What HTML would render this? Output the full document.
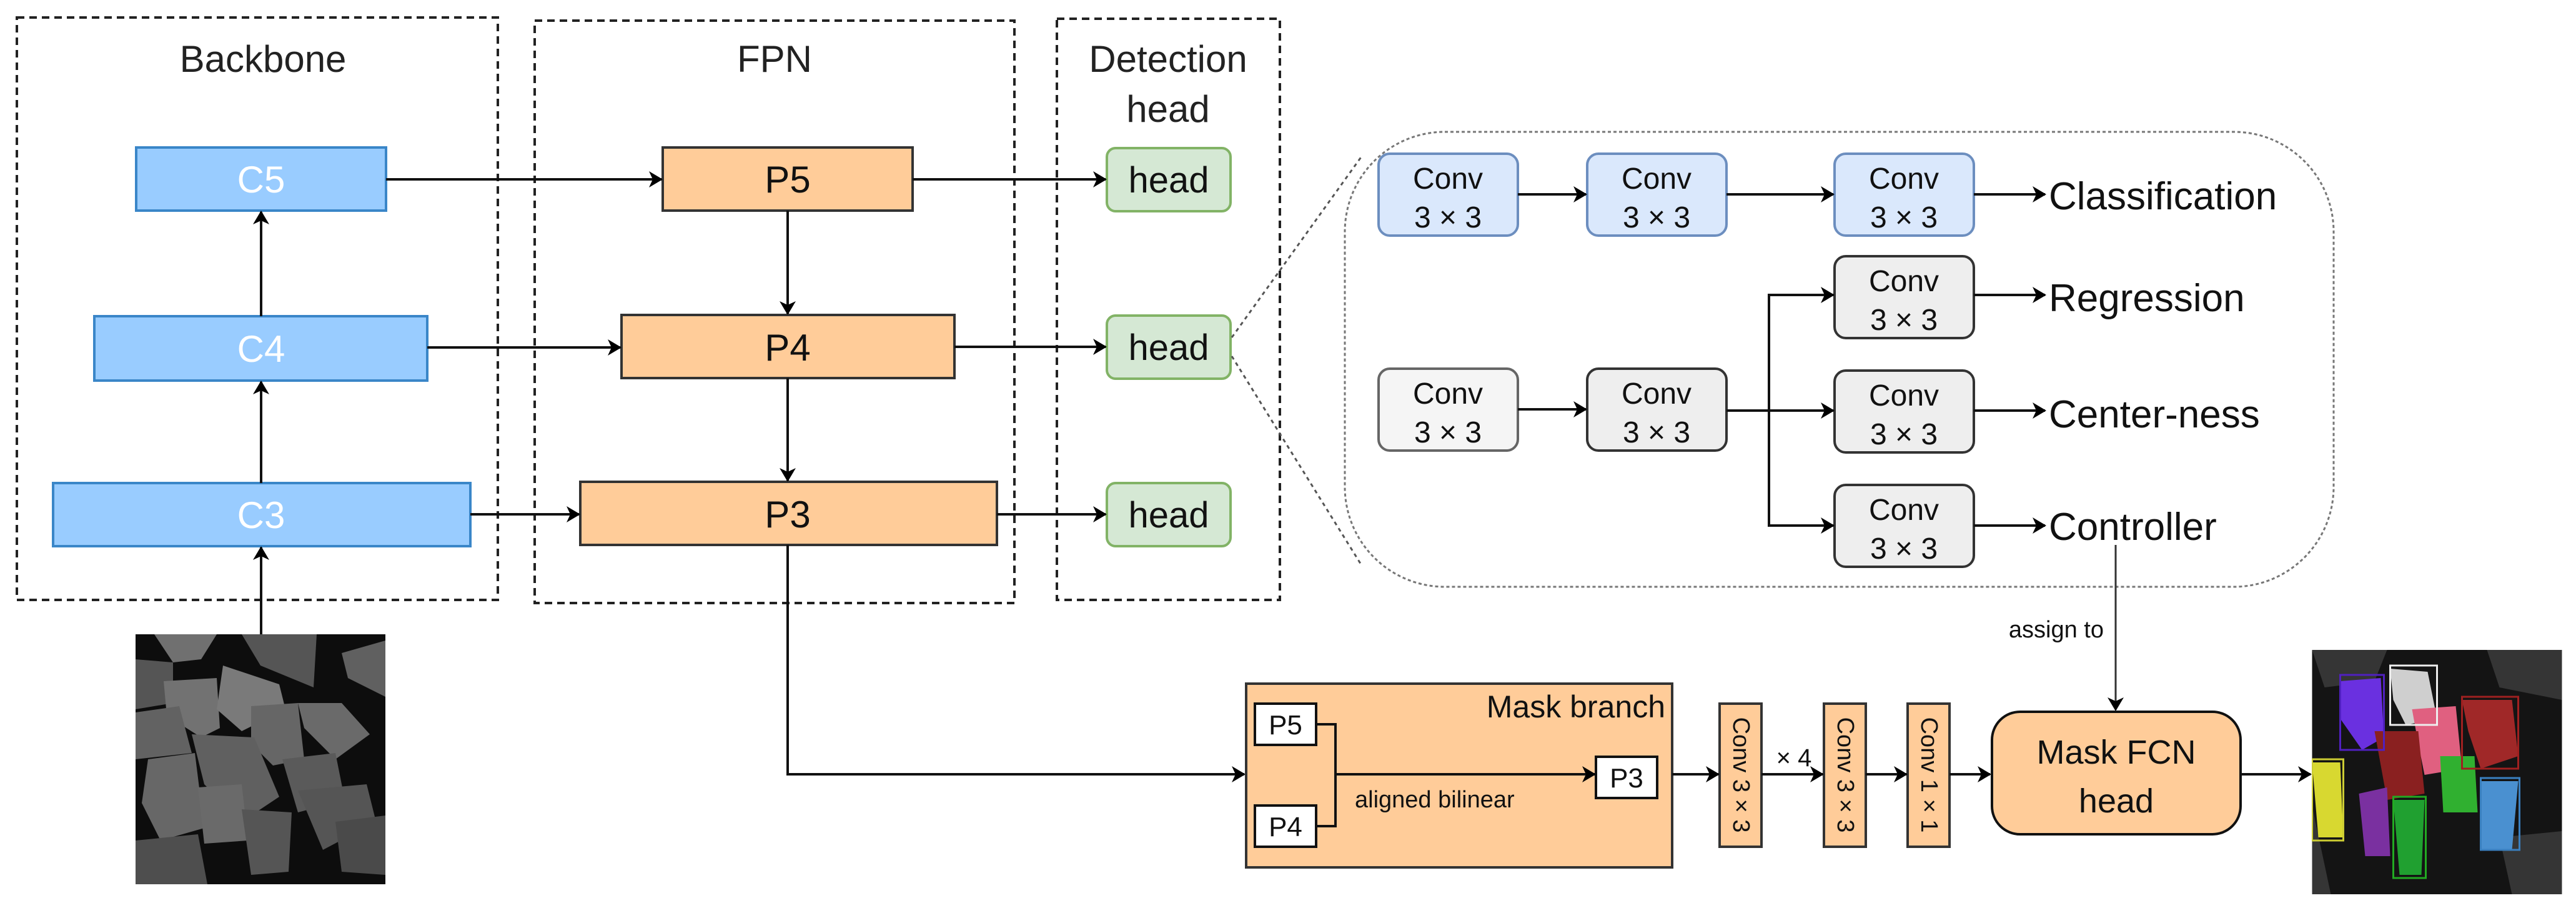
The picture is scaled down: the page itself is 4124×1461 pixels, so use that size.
<!DOCTYPE html>
<html><head><meta charset="utf-8"><style>html,body{margin:0;padding:0;background:#fff}svg{display:block}</style></head>
<body>
<svg width="4124" height="1461" viewBox="0 0 4124 1461" xmlns="http://www.w3.org/2000/svg" font-family="Liberation Sans, sans-serif">
<defs>
<marker id="b" markerWidth="22" markerHeight="26" refX="20" refY="13" orient="auto" markerUnits="userSpaceOnUse"><path d="M0,0 L22,13 L0,26 L6,13 z" fill="#000"/></marker>
</defs>
<g fill="none" stroke="#222" stroke-width="4" stroke-dasharray="12,8">
<rect x="27" y="28" width="770" height="932"/>
<rect x="856" y="33" width="768" height="932"/>
<rect x="1692" y="30" width="357" height="930"/>
</g>
<g font-size="60" fill="#222" text-anchor="middle">
<text x="421" y="115">Backbone</text>
<text x="1240" y="115">FPN</text>
<text x="1870" y="115">Detection</text>
<text x="1870" y="195">head</text>
</g>
<g fill="#99ccff" stroke="#3a86c8" stroke-width="4">
<rect x="218" y="236" width="400" height="101"/>
<rect x="151" y="506" width="533" height="103"/>
<rect x="85" y="773" width="668" height="101"/>
</g>
<g font-size="60" fill="#fff" text-anchor="middle">
<text x="418" y="308">C5</text><text x="418" y="579">C4</text><text x="418" y="845">C3</text>
</g>
<g fill="#ffcc99" stroke="#333" stroke-width="4">
<rect x="1061" y="236" width="400" height="101"/>
<rect x="995" y="504" width="533" height="101"/>
<rect x="929" y="771" width="667" height="101"/>
</g>
<g font-size="60" fill="#111" text-anchor="middle">
<text x="1261" y="308">P5</text><text x="1261" y="577">P4</text><text x="1261" y="844">P3</text>
</g>
<g fill="#d5e8d4" stroke="#82b366" stroke-width="4">
<rect x="1772" y="237" width="198" height="101" rx="14"/>
<rect x="1772" y="505" width="198" height="101" rx="14"/>
<rect x="1772" y="773" width="198" height="101" rx="14"/>
</g>
<g font-size="58" fill="#111" text-anchor="middle">
<text x="1871" y="308">head</text><text x="1871" y="576">head</text><text x="1871" y="844">head</text>
</g>
<g stroke="#111" stroke-width="4" fill="none" marker-end="url(#b)">
<line x1="618" y1="287" x2="1059" y2="287"/>
<line x1="684" y1="556" x2="993" y2="556"/>
<line x1="753" y1="823" x2="927" y2="823"/>
<line x1="1461" y1="287" x2="1770" y2="287"/>
<line x1="1528" y1="555" x2="1770" y2="555"/>
<line x1="1596" y1="823" x2="1770" y2="823"/>
<line x1="1261" y1="337" x2="1261" y2="502"/>
<line x1="1261" y1="605" x2="1261" y2="769"/>
<line x1="418" y1="506" x2="418" y2="339"/>
<line x1="418" y1="773" x2="418" y2="611"/>
<line x1="418" y1="1015" x2="418" y2="876"/>
<polyline points="1261,872 1261,1239 1992,1239"/>
</g>
<g stroke="#555" stroke-width="3" stroke-dasharray="6,6" fill="none">
<line x1="1972" y1="540" x2="2180" y2="250"/>
<line x1="1972" y1="570" x2="2180" y2="905"/>
</g>
<rect x="2153" y="211" width="1583" height="728" rx="160" fill="none" stroke="#777" stroke-width="3" stroke-dasharray="5,4"/>
<g stroke-width="4">
<g fill="#dae8fc" stroke="#6c8ebf">
<rect x="2207" y="246" width="223" height="131" rx="18"/>
<rect x="2541" y="246" width="223" height="131" rx="18"/>
<rect x="2937" y="246" width="223" height="131" rx="18"/>
</g>
<g fill="#f5f5f5" stroke="#666">
<rect x="2207" y="590" width="223" height="131" rx="18"/>
</g>
<g fill="#eeeeee" stroke="#333">
<rect x="2541" y="590" width="223" height="131" rx="18"/>
<rect x="2937" y="410" width="223" height="131" rx="18"/>
<rect x="2937" y="593" width="223" height="131" rx="18"/>
<rect x="2937" y="776" width="223" height="131" rx="18"/>
</g>
</g>
<g font-size="48" fill="#111" text-anchor="middle">
<text x="2318" y="302">Conv</text><text x="2318" y="364">3 × 3</text>
<text x="2652" y="302">Conv</text><text x="2652" y="364">3 × 3</text>
<text x="3048" y="302">Conv</text><text x="3048" y="364">3 × 3</text>
<text x="3048" y="466">Conv</text><text x="3048" y="528">3 × 3</text>
<text x="2318" y="646">Conv</text><text x="2318" y="708">3 × 3</text>
<text x="2652" y="646">Conv</text><text x="2652" y="708">3 × 3</text>
<text x="3048" y="649">Conv</text><text x="3048" y="711">3 × 3</text>
<text x="3048" y="832">Conv</text><text x="3048" y="894">3 × 3</text>
</g>
<g stroke="#111" stroke-width="4" fill="none" marker-end="url(#b)">
<line x1="2430" y1="311" x2="2539" y2="311"/>
<line x1="2764" y1="311" x2="2935" y2="311"/>
<line x1="2430" y1="655" x2="2539" y2="655"/>
<line x1="2764" y1="657" x2="2935" y2="657"/>
<polyline points="2832,657 2832,472 2935,472"/>
<polyline points="2832,657 2832,841 2935,841"/>
<line x1="3160" y1="311" x2="3274" y2="311"/>
<line x1="3160" y1="472" x2="3274" y2="472"/>
<line x1="3160" y1="657" x2="3274" y2="657"/>
<line x1="3160" y1="841" x2="3274" y2="841"/>
</g>
<g font-size="62" fill="#111">
<text x="3280" y="335">Classification</text>
<text x="3280" y="498">Regression</text>
<text x="3280" y="684">Center-ness</text>
<text x="3280" y="864">Controller</text>
</g>
<line x1="3387" y1="872" x2="3387" y2="1136" stroke="#333" stroke-width="3" marker-end="url(#b)"/>
<text x="3368" y="1020" font-size="38" fill="#111" text-anchor="end">assign to</text>
<rect x="1995" y="1094" width="682" height="294" fill="#ffcc99" stroke="#333" stroke-width="4"/>
<text x="2666" y="1148" font-size="50" fill="#111" text-anchor="end">Mask branch</text>
<g fill="#fff" stroke="#111" stroke-width="4">
<rect x="2009" y="1126" width="98" height="66"/>
<rect x="2009" y="1289" width="98" height="66"/>
<rect x="2555" y="1211" width="98" height="66"/>
</g>
<g font-size="44" fill="#111" text-anchor="middle">
<text x="2058" y="1175">P5</text><text x="2058" y="1338">P4</text><text x="2604" y="1260">P3</text>
</g>
<polyline points="2107,1159 2138,1159 2138,1322 2107,1322" fill="none" stroke="#111" stroke-width="4"/>
<line x1="2138" y1="1239" x2="2553" y2="1239" stroke="#111" stroke-width="4" marker-end="url(#b)"/>
<text x="2169" y="1292" font-size="38" fill="#111">aligned bilinear</text>
<g fill="#ffcc99" stroke="#333" stroke-width="4">
<rect x="2753" y="1126" width="67" height="229"/>
<rect x="2920" y="1126" width="67" height="229"/>
<rect x="3054" y="1126" width="67" height="229"/>
</g>
<g font-size="38" fill="#111" text-anchor="middle">
<text transform="translate(2775,1240) rotate(90)">Conv 3 × 3</text>
<text transform="translate(2942,1240) rotate(90)">Conv 3 × 3</text>
<text transform="translate(3076,1240) rotate(90)">Conv 1 × 1</text>
<text x="2872" y="1226" font-size="40">× 4</text>
</g>
<g stroke="#111" stroke-width="4" fill="none" marker-end="url(#b)">
<line x1="2677" y1="1239" x2="2751" y2="1239"/>
<line x1="2820" y1="1239" x2="2918" y2="1239"/>
<line x1="2987" y1="1239" x2="3052" y2="1239"/>
<line x1="3121" y1="1239" x2="3186" y2="1239"/>
<line x1="3587" y1="1239" x2="3699" y2="1239"/>
</g>
<rect x="3189" y="1139" width="398" height="196" rx="45" fill="#ffcc99" stroke="#111" stroke-width="4"/>
<g font-size="54" fill="#111" text-anchor="middle">
<text x="3388" y="1222">Mask FCN</text><text x="3388" y="1300">head</text>
</g>
<svg x="217" y="1015" width="400" height="400" viewBox="0 0 400 400">
<rect width="400" height="400" fill="#0d0d0d"/>
<g>
<path d="M30,0 L130,0 L105,40 L60,45 Z" fill="#707070"/>
<path d="M170,0 L290,0 L285,85 L200,50 Z" fill="#555"/>
<path d="M330,30 L400,10 L400,100 L340,70 Z" fill="#606060"/>
<path d="M0,40 L60,45 L60,110 L0,120 Z" fill="#555"/>
<path d="M45,75 L130,70 L135,150 L105,165 L50,130 Z" fill="#727272"/>
<path d="M140,50 L230,80 L240,120 L170,155 L130,120 Z" fill="#7a7a7a"/>
<path d="M185,115 L260,110 L270,200 L220,210 L185,175 Z" fill="#666"/>
<path d="M260,110 L330,110 L375,160 L320,200 L270,150 Z" fill="#6a6a6a"/>
<path d="M0,125 L70,115 L90,190 L0,200 Z" fill="#626262"/>
<path d="M90,160 L190,165 L230,260 L170,300 L110,240 Z" fill="#606060"/>
<path d="M20,200 L95,190 L110,310 L40,330 L10,270 Z" fill="#676767"/>
<path d="M100,245 L170,240 L180,330 L110,335 Z" fill="#6a6a6a"/>
<path d="M235,200 L320,190 L335,265 L260,285 Z" fill="#5a5a5a"/>
<path d="M260,250 L370,240 L385,300 L300,345 Z" fill="#555"/>
<path d="M170,280 L250,285 L245,380 L185,385 Z" fill="#555"/>
<path d="M0,330 L100,320 L115,400 L0,400 Z" fill="#4e4e4e"/>
<path d="M320,300 L400,290 L400,385 L330,380 Z" fill="#4a4a4a"/>
</g>
</svg>
<svg x="3701" y="1040" width="401" height="391" viewBox="0 0 400 391">
<rect width="400" height="391" fill="#141414"/>
<g opacity="0.5" fill="#555">
<path d="M0,0 L120,0 L100,50 L20,60 Z"/><path d="M280,0 L400,0 L400,80 L300,60 Z"/>
<path d="M0,250 L30,391 L0,391 Z"/><path d="M300,300 L400,290 L400,391 L320,391 Z"/>
</g>
<path d="M45,50 L110,45 L115,140 L80,160 L45,110 Z" fill="#6a30e0"/>
<path d="M125,30 L185,35 L200,110 L150,120 L130,80 Z" fill="#cfcfcf"/>
<path d="M160,95 L230,90 L240,190 L180,200 L170,150 Z" fill="#e06080"/>
<path d="M240,80 L320,80 L330,170 L270,190 L250,130 Z" fill="#a02828"/>
<path d="M100,130 L170,130 L180,230 L120,240 Z" fill="#8a2020"/>
<path d="M0,180 L45,180 L50,300 L10,300 Z" fill="#d8d830"/>
<path d="M75,230 L120,220 L125,330 L85,330 Z" fill="#7a30a0"/>
<path d="M130,240 L180,240 L175,360 L140,360 Z" fill="#20a030"/>
<path d="M205,170 L260,170 L265,260 L210,260 Z" fill="#30b030"/>
<path d="M270,210 L330,210 L320,320 L270,320 Z" fill="#4a90d0"/>
<g fill="none" stroke-width="3">
<rect x="45" y="40" width="70" height="120" stroke="#5020c0"/>
<rect x="125" y="25" width="75" height="95" stroke="#eee"/>
<rect x="240" y="75" width="90" height="115" stroke="#a02020"/>
<rect x="0" y="175" width="50" height="130" stroke="#cc3"/>
<rect x="270" y="205" width="62" height="115" stroke="#3a80c0"/>
<rect x="130" y="235" width="52" height="130" stroke="#2a2"/>
</g>
</svg>
</svg>
</body></html>
